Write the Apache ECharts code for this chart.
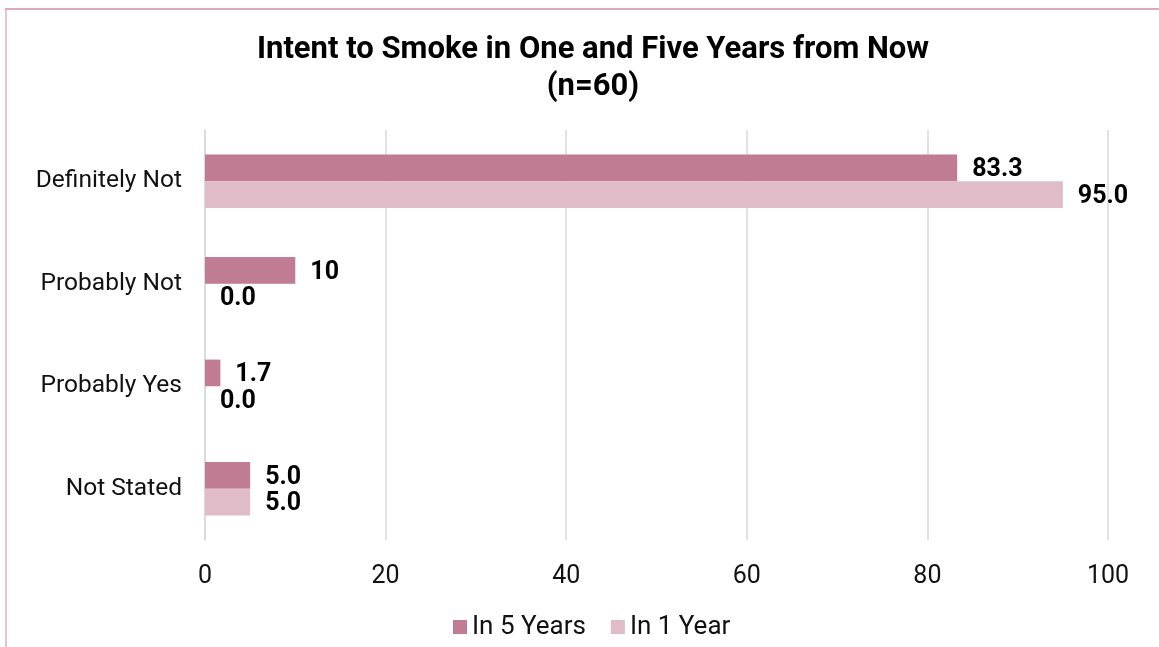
<!DOCTYPE html>
<html>
<head>
<meta charset="utf-8">
<title>Intent to Smoke</title>
<script src="https://cdn.jsdelivr.net/npm/echarts@6/dist/echarts.min.js"></script>
<style>
  html, body { margin: 0; padding: 0; background: #fff; }
  #chart { width: 1159px; height: 647px; }
</style>
</head>
<body>
<div id="chart"></div>
<script>
// Survey responses, percent of respondents
const categories = ['Definitely Not', 'Probably Not', 'Probably Yes', 'Not Stated'];
const inFiveYears = [83.3, 10, 1.7, 5.0];
const inOneYear = [95.0, 0.0, 0.0, 5.0];
// decimals shown in each bar's value label
const fiveYearDecimals = [1, 0, 1, 1];
const oneYearDecimals = [1, 1, 1, 1];
const xTicks = [0, 20, 40, 60, 80, 100];

const FONT = 'Roboto, "Noto Sans", sans-serif';

const chart = echarts.init(document.getElementById('chart'), null, { renderer: 'canvas' });

function valueLabel(decimals) {
  return {
    show: true,
    position: 'right',
    distance: 15,
    offset: [0, 2],
    fontFamily: FONT,
    fontSize: 25,
    fontWeight: 'bold',
    color: '#000',
    formatter: p => p.value.toFixed(decimals[p.dataIndex])
  };
}

chart.setOption({
  animation: false,
  title: {
    text: 'Intent to Smoke in One and Five Years from Now\n(n=60)',
    left: 588,
    textAlign: 'center',
    top: 27,
    textStyle: {
      fontFamily: FONT,
      fontSize: 31,
      fontWeight: 'bold',
      color: '#000',
      lineHeight: 37
    }
  },
  legend: {
    bottom: 2,
    left: 448,
    itemWidth: 14,
    itemHeight: 14,
    itemGap: 25,
    icon: 'rect',
    textStyle: { fontFamily: FONT, fontSize: 26, color: '#111' },
    data: ['In 5 Years', 'In 1 Year']
  },
  grid: { left: 205, right: 51, top: 130, bottom: 107, containLabel: false },
  xAxis: {
    type: 'value',
    min: xTicks[0],
    max: xTicks[xTicks.length - 1],
    interval: xTicks[1] - xTicks[0],
    axisLine: { show: false },
    axisTick: { show: false },
    splitLine: { show: true, lineStyle: { color: '#d9d9d9', width: 1.5 } },
    axisLabel: { fontFamily: FONT, fontSize: 25, color: '#111', margin: 24 }
  },
  yAxis: {
    type: 'category',
    inverse: true,
    data: categories,
    axisLine: { show: true, lineStyle: { color: '#d9d9d9', width: 1.5 } },
    axisTick: { show: false },
    axisLabel: { fontFamily: FONT, fontSize: 24.5, color: '#111', margin: 23, padding: [5, 0, 0, 0] }
  },
  series: [
    {
      name: 'In 5 Years',
      type: 'bar',
      data: inFiveYears,
      barGap: '0%',
      barCategoryGap: '48%',
      itemStyle: { color: '#c07c93' },
      label: valueLabel(fiveYearDecimals)
    },
    {
      name: 'In 1 Year',
      type: 'bar',
      data: inOneYear,
      barGap: '0%',
      barCategoryGap: '48%',
      itemStyle: { color: '#e0bcc8' },
      label: valueLabel(oneYearDecimals)
    }
  ],
  graphic: [
    { type: 'line', shape: { x1: 5, y1: 9, x2: 1159, y2: 9 }, style: { stroke: '#d48ba4', lineWidth: 1.5 } },
    { type: 'line', shape: { x1: 6, y1: 9, x2: 6, y2: 647 }, style: { stroke: '#e4aec3', lineWidth: 1.5 } }
  ]
});
</script>
</body>
</html>
